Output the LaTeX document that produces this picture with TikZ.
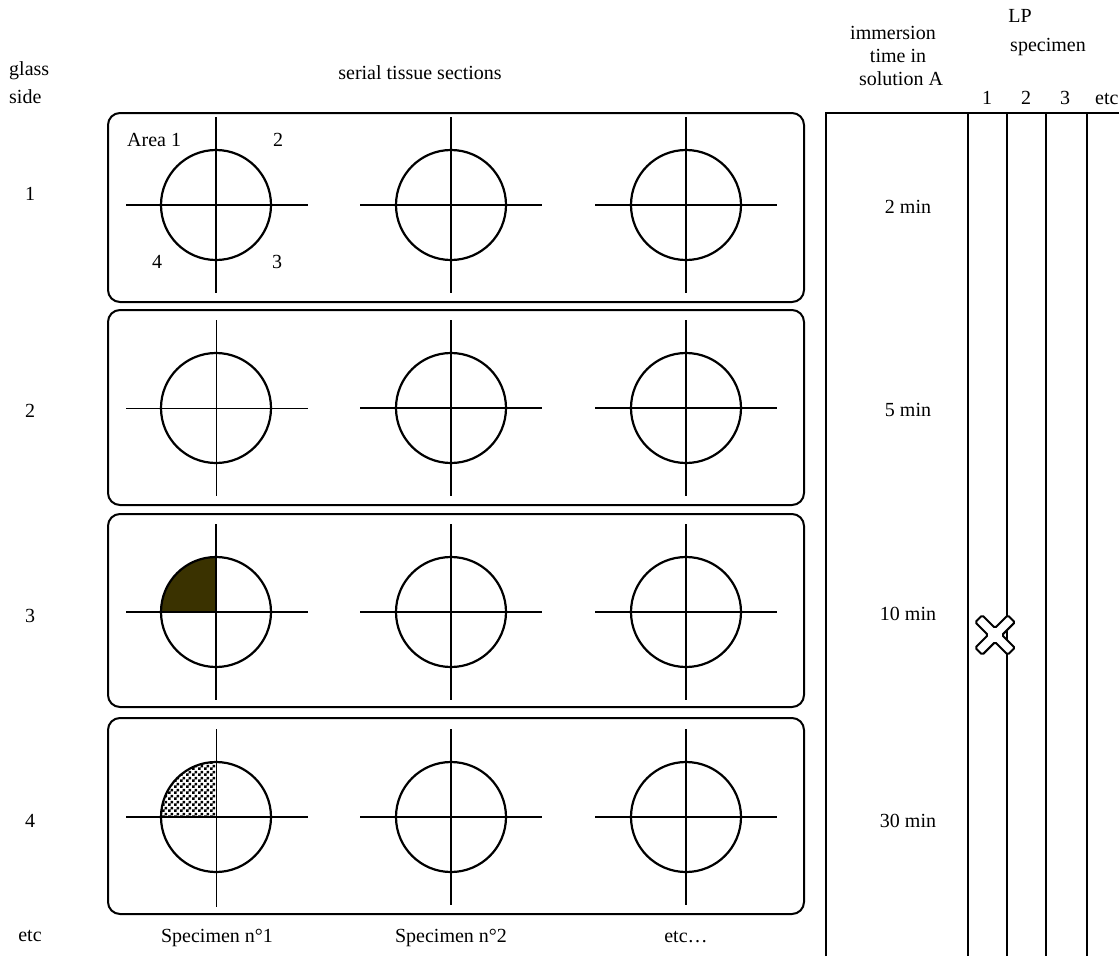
\documentclass[tikz,border=0pt]{standalone}
\usepackage{fontspec}
\setmainfont{Liberation Serif}
\usetikzlibrary{patterns}
\pgfdeclarepatternformonly{finecheck}{\pgfpointorigin}{\pgfqpoint{6pt}{6pt}}{\pgfqpoint{6pt}{6pt}}{%
  \pgfpathrectangle{\pgfpointorigin}{\pgfqpoint{3pt}{3pt}}%
  \pgfpathrectangle{\pgfqpoint{3pt}{3pt}}{\pgfqpoint{3pt}{3pt}}%
  \pgfusepath{fill}}
\definecolor{darkolive}{RGB}{58,50,0}
\tikzset{
  lbl/.style={font=\fontsize{20}{24}\selectfont, inner sep=0pt, anchor=base},
  lblw/.style={lbl, anchor=base west},
  slide/.style={draw, line width=2pt, rounded corners=12pt},
  thickline/.style={line width=2pt},
  thinline/.style={line width=1pt},
  ring/.style={draw, circle, line width=2.2pt, minimum size=110pt, inner sep=0pt},
  tabline/.style={line width=2pt},
}
\begin{document}
\begin{tikzpicture}[x=1pt,y=-1pt]
\useasboundingbox (0,0) rectangle (1119,956);

% slides
\draw[slide] (108,113) rectangle (804,302);
\draw[slide] (108,310) rectangle (804,505);
\draw[slide] (108,514) rectangle (804,707);
\draw[slide] (108,718) rectangle (804,914);

% filled quadrants
\begin{scope}
  \clip (150,546) rectangle (216,612);
  \fill[darkolive] (216,612) circle[radius=55];
\end{scope}
\begin{scope}
  \clip (150,751) rectangle (216,817);
  \fill[pattern=finecheck] (216,817) circle[radius=55];
\end{scope}

% circles
\foreach \r/\y in {1/205,2/408,3/612,4/817}{
  \foreach \c/\x in {1/216,2/451,3/686}{
    \node[ring] (c\r\c) at (\x,\y) {};
  }
}
% crosses (thick)
\foreach \y in {205,408,612,817}{
  \foreach \x in {451,686}{
    \draw[thickline] (\x-91,\y) -- (\x+91,\y);
    \draw[thickline] (\x,\y-88) -- (\x,\y+88);
  }
}
\foreach \y in {205,612}{
  \draw[thickline] (216-90,\y) -- (216+92,\y);
  \draw[thickline] (216,\y-88) -- (216,\y+88);
}
% row 2 column 1: thin
\draw[thinline] (216-90,408) -- (216+92,408);
\draw[thinline] (216,408-88) -- (216,408+88);
% row 4 column 1: thin vertical, thick horizontal
\draw[thickline] (216-90,817) -- (216+92,817);
\draw[thinline] (216,817-88) -- (216,817+90);

% area labels
\node[lblw] (area1) at (127,146) {Area 1};
\node[lblw] (area2) at (273,146) {2};
\node[lblw] (area4) at (152,268) {4};
\node[lblw] (area3) at (272,268) {3};

% left labels
\node[lblw] (glass) at (9,75) {glass};
\node[lblw] (side) at (9,103) {side};
\node[lbl] (r1) at (30,200) {1};
\node[lbl] (r2) at (30,417) {2};
\node[lbl] (r3) at (30,622) {3};
\node[lbl] (r4) at (30,827) {4};
\node[lbl] (retc) at (30,941) {etc};
\node[lbl] (serial) at (420,79) {serial tissue sections};

% bottom labels
\node[lbl] (sp1) at (217,942) {Specimen n°1};
\node[lbl] (sp2) at (451,942) {Specimen n°2};
\node[lbl] (spetc) at (686,942) {etc…};

% right table
\draw[tabline] (826,956) -- (826,113) -- (1119,113);
\foreach \x in {968,1007,1046,1087}{
  \draw[tabline] (\x,113) -- (\x,956);
}
\node[lbl] (imm1) at (893,39) {immersion};
\node[lbl] (imm2) at (898,62) {time in};
\node[lbl] (imm3) at (901,85) {solution A};
\node[lbl] (lp1) at (1020,22) {LP};
\node[lbl] (lp2) at (1048,51) {specimen};
\node[lbl] (n1) at (987,104) {1};
\node[lbl] (n2) at (1026,104) {2};
\node[lbl] (n3) at (1065,104) {3};
\node[lblw] (netc) at (1095,104) {etc};

\node[lbl] (t1) at (908,213) {2 min};
\node[lbl] (t2) at (908,416) {5 min};
\node[lbl] (t3) at (908,620) {10 min};
\node[lbl] (t4) at (908,827) {30 min};

% cross mark
\draw[line width=2pt, fill=white, rounded corners=1.5pt, shift={(995,635)}, rotate=45]
  (5,5) -- (23,5) -- (23,-5) -- (5,-5) -- (5,-23) -- (-5,-23) -- (-5,-5) -- (-23,-5)
  -- (-23,5) -- (-5,5) -- (-5,23) -- (5,23) -- cycle;
\end{tikzpicture}
\end{document}
